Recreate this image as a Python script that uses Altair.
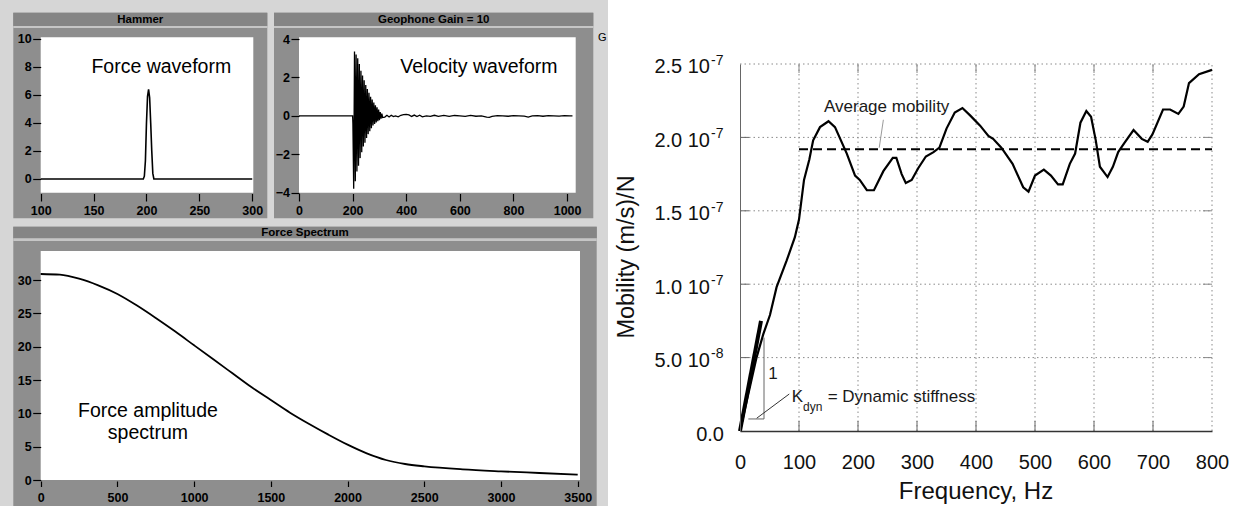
import altair as alt
import pandas as pd

LF = "Liberation Sans"

# ---------------- Hammer: force waveform ----------------
hammer_time = [100, 150, 197, 198, 199, 200, 201, 202, 203, 204, 205, 206, 207, 250, 300]
hammer_force = [0, 0, 0, 0.2, 1.3, 4.0, 5.9, 6.4, 5.8, 4.0, 2.0, 0.4, 0, 0, 0]
hammer_xticks = [100, 150, 200, 250, 300]
hammer_yticks = [0, 2, 4, 6, 8, 10]

# ---------------- Geophone: velocity waveform ----------------
vel_time = [0, 100, 150, 200, 201, 204, 207, 210, 213, 216, 219, 222, 225, 228, 231, 234, 237,
            240, 243, 246, 249, 252, 255, 258, 261, 264, 267, 270, 273, 276, 279, 282, 285,
            288, 291, 294, 297, 300, 303, 306, 309, 312,
            320, 328, 336, 344, 352, 360, 370, 380, 390, 400, 410, 420, 430, 440, 450, 460,
            475, 490, 505, 520, 540, 560, 580, 600, 620, 640, 660, 680, 700, 710, 720, 740,
            760, 780, 800, 820, 840, 855, 870, 890, 910, 930, 950, 970, 990, 1010, 1020]
vel_value = [0, 0, 0, 0, -0.4, -3.8, 3.35, -3.4, 3.2, -2.9, 3.0, -2.6, 2.7, -2.2, 2.35, -1.9, 2.1,
             -1.6, 1.85, -1.4, 1.6, -1.15, 1.4, -0.95, 1.2, -0.8, 1.0, -0.65, 0.85, -0.5, 0.7, -0.42, 0.55,
             -0.35, 0.45, -0.28, 0.33, -0.22, 0.2, -0.15, 0.12, -0.08,
             -0.06, 0.03, -0.06, 0.03, -0.04, 0.0, -0.05, 0.03, 0.06, 0.08, 0.05, -0.03, 0.04, -0.04, 0.03, -0.05,
             0.0, -0.03, 0.03, -0.03, 0.02, -0.03, 0.02, 0.0, -0.03, 0.02, -0.02, 0.0, -0.07, -0.08, -0.03, 0.01,
             0.0, -0.02, 0.01, 0.0, -0.01, -0.06, 0.0, 0.01, -0.02, 0.01, 0.0, -0.01, 0.01, 0.0, 0.0]
geo_xticks = [0, 200, 400, 600, 800, 1000]
geo_yticks = [-4, -2, 0, 2, 4]

# ---------------- Force amplitude spectrum ----------------
spec_freq = [0, 125, 250, 375, 500, 625, 750, 875, 1000, 1125, 1250, 1375, 1500, 1625, 1750,
             1875, 2000, 2125, 2250, 2375, 2500, 2750, 3000, 3250, 3500]
spec_amp = [30.9, 30.8, 30.2, 29.2, 27.9, 26.2, 24.3, 22.3, 20.2, 18.1, 16.0, 13.9, 12.0, 10.1, 8.4,
            6.8, 5.3, 4.0, 3.0, 2.4, 2.05, 1.6, 1.3, 1.05, 0.8]
spec_xticks = [0, 500, 1000, 1500, 2000, 2500, 3000, 3500]
spec_yticks = [0, 5, 10, 15, 20, 25, 30]

# ---------------- Mobility (values in units of 1e-7 (m/s)/N) ----------------
mob_freq = [0, 28, 39.5, 50.8, 62, 79, 93, 100, 108.5, 117.5, 124, 135.6, 150, 161, 181, 195, 203,
            215, 227, 243, 259, 265, 274, 281, 291, 302, 315, 328, 338, 350, 364, 377, 390, 407,
            421, 429, 443, 462, 480, 489, 500, 515, 527, 539, 547, 559, 568, 577, 587, 595, 603,
            610, 623, 632, 641, 651, 667, 681, 691, 699, 717, 729, 743, 752, 761, 778, 800]
mob_value_e7 = [0, 0.5, 0.66, 0.79, 0.98, 1.16, 1.32, 1.44, 1.71, 1.85, 1.98, 2.07, 2.11, 2.07, 1.89,
                1.74, 1.71, 1.64, 1.64, 1.77, 1.86, 1.86, 1.75, 1.69, 1.71, 1.79, 1.87, 1.90, 1.93,
                2.06, 2.17, 2.20, 2.15, 2.08, 2.01, 1.99, 1.93, 1.82, 1.66, 1.63, 1.74, 1.78, 1.74,
                1.68, 1.68, 1.82, 1.89, 2.10, 2.18, 2.14, 1.98, 1.80, 1.73, 1.80, 1.90, 1.96, 2.05,
                1.99, 1.97, 2.02, 2.19, 2.19, 2.16, 2.21, 2.37, 2.43, 2.46]
avg_mobility_e7 = 1.92
mob_xticks = [0, 100, 200, 300, 400, 500, 600, 700, 800]
mob_yticks_e7 = [0.0, 0.5, 1.0, 1.5, 2.0, 2.5]
mob_ylabel_base = ["0.0", "5.0 10", "1.0 10", "1.5 10", "2.0 10", "2.5 10"]
mob_ylabel_exp = ["", "-8", "-7", "-7", "-7", "-7"]

E7 = 1e-7

# ---------------- scales (pixel ranges inside the 1238x506 canvas) ----------------
def lin(domain, rng):
    return alt.Scale(domain=domain, range=rng, nice=False, zero=False)

H_X = lin([100, 301], [40.7, 253.3])
H_Y = lin([-0.98, 10.12], [192.7, 37.3])
G_X = lin([0, 1032], [299, 575.7])
G_Y = lin([-4.0, 4.09], [192.7, 37.3])
S_X = lin([0, 3515], [40.7, 580])
S_Y = lin([0, 34.35], [480, 251])
M_X = lin([0, 800], [740, 1212])
M_Y = lin([0, 2.5e-7], [431, 64])

ONE = pd.DataFrame({"_": [0]})


def xaxis_left(values, ypix, tick=7.5, pad=3.0):
    return alt.Axis(values=values, orient="bottom", offset=ypix - 506, domain=False, grid=False,
                    ticks=True, tickSize=tick, tickColor="black", tickWidth=1.2,
                    labelFont=LF, labelFontWeight="bold", labelFontSize=12.5, labelColor="black",
                    labelPadding=pad, labelFlush=False, labelOverlap=False, title=None,
                    format="d", zindex=1)


def yaxis_left(values, xpix, tick=8, pad=1.5):
    return alt.Axis(values=values, orient="left", offset=-xpix, domain=False, grid=False,
                    ticks=True, tickSize=tick, tickColor="black", tickWidth=1.2,
                    labelFont=LF, labelFontWeight="bold", labelFontSize=12.5, labelColor="black",
                    labelPadding=pad, labelFlush=False, labelOverlap=False, title=None,
                    format="d", zindex=1)


def box(x1, x2, y1, y2, color):
    return alt.Chart(ONE).mark_rect(fill=color, strokeWidth=0).encode(
        x=alt.value(x1), x2=alt.value(x2), y=alt.value(y1), y2=alt.value(y2))


def label(xp, yp, text, size=11.5, weight="bold", align="center", color="black", angle=0):
    kw = dict(text=text, font=LF, fontSize=size, fontWeight=weight, align=align,
              baseline="middle", color=color)
    if angle:
        kw["angle"] = angle
    return alt.Chart(ONE).mark_text(**kw).encode(x=alt.value(xp), y=alt.value(yp))


def dtext(xs, ys, xv, yv, text, size=19.5, align="center", dy=0, color="black"):
    return alt.Chart(ONE).mark_text(text=text, font=LF, fontSize=size, align=align,
                                    baseline="middle", dy=dy, color=color).encode(
        x=alt.XDatum(xv, scale=xs, axis=None), y=alt.YDatum(yv, scale=ys, axis=None))


def mseg(f1, v1, f2, v2, color="black", width=1.0, dash=None):
    kw = dict(color=color, strokeWidth=width)
    if dash:
        kw["strokeDash"] = dash
    return alt.Chart(ONE).mark_rule(**kw).encode(
        x=alt.XDatum(f1, scale=M_X, axis=None), x2=alt.X2Datum(f2),
        y=alt.YDatum(v1, scale=M_Y, axis=None), y2=alt.Y2Datum(v2))


layers = []

# ---------------- left instrument-screen background ----------------
PANEL = "#8e8e8e"
BAR = "#858585"
HILITE = "#c6c6c6"
layers += [
    box(0, 608, 0, 506, "#d6d6d6"),
    # Hammer panel
    box(13.3, 267.3, 12.7, 218.3, PANEL),
    box(13.3, 267.3, 12.7, 26, BAR),
    box(13.3, 267.3, 26, 28, HILITE),
    box(40.7, 253.3, 37.3, 192.7, "white"),
    # Geophone panel
    box(274, 593.3, 12.7, 218.3, PANEL),
    box(274, 593.3, 12.7, 26, BAR),
    box(274, 593.3, 26, 28, HILITE),
    box(299, 575.7, 37.3, 192.7, "white"),
    # Force spectrum panel
    box(13.3, 596.7, 226.7, 506, PANEL),
    box(13.3, 596.7, 226.7, 238.3, BAR),
    box(13.3, 596.7, 238.3, 241, HILITE),
    box(40.7, 580, 251, 480, "white"),
    label(140.3, 20, "Hammer"),
    label(433.7, 20, "Geophone Gain = 10"),
    label(305, 232.8, "Force Spectrum"),
    label(598, 38, "G", size=11, weight="normal", align="left"),
]

# ---------------- Hammer ----------------
df_h = pd.DataFrame({"t": hammer_time, "f": hammer_force})
layers.append(alt.Chart(df_h).mark_line(color="black", strokeWidth=1.6).encode(
    x=alt.X("t:Q", scale=H_X, axis=xaxis_left(hammer_xticks, 193.5)),
    y=alt.Y("f:Q", scale=H_Y, axis=yaxis_left(hammer_yticks, 40.7))))
layers.append(dtext(H_X, H_Y, 214, 8.0, "Force waveform"))

# ---------------- Geophone ----------------
df_g = pd.DataFrame({"t": vel_time, "v": vel_value})
layers.append(alt.Chart(df_g).mark_line(color="black", strokeWidth=1.3).encode(
    x=alt.X("t:Q", scale=G_X, axis=xaxis_left(geo_xticks, 193.5)),
    y=alt.Y("v:Q", scale=G_Y, axis=yaxis_left(geo_yticks, 299))))
layers.append(dtext(G_X, G_Y, 671, 2.56, "Velocity waveform"))

# ---------------- Force spectrum ----------------
df_s = pd.DataFrame({"f": spec_freq, "a": spec_amp})
layers.append(alt.Chart(df_s).mark_line(color="black", strokeWidth=1.8, interpolate="monotone").encode(
    x=alt.X("f:Q", scale=S_X, axis=xaxis_left(spec_xticks, 481, tick=5.5, pad=5.2)),
    y=alt.Y("a:Q", scale=S_Y, axis=yaxis_left(spec_yticks, 40.7))))
layers.append(dtext(S_X, S_Y, 699, 10.4, "Force amplitude"))
layers.append(dtext(S_X, S_Y, 699, 7.0, "spectrum"))

# ---------------- Mobility chart ----------------
GRID = "#8a8a8a"
df_mx_grid = pd.DataFrame({"f": mob_xticks[1:]})
df_my_grid = pd.DataFrame({"v": [t * E7 for t in mob_yticks_e7[1:]]})
df_mx_in = pd.DataFrame({"f": mob_xticks[1:-1]})
df_my_in = pd.DataFrame({"v": [t * E7 for t in mob_yticks_e7[1:-1]]})

layers += [
    alt.Chart(df_mx_grid).mark_rule(color=GRID, strokeWidth=1, strokeDash=[1.5, 3]).encode(
        x=alt.X("f:Q", scale=M_X, axis=None),
        y=alt.YDatum(0, scale=M_Y, axis=None), y2=alt.Y2Datum(2.5e-7)),
    alt.Chart(df_my_grid).mark_rule(color=GRID, strokeWidth=1, strokeDash=[1.5, 3]).encode(
        y=alt.Y("v:Q", scale=M_Y, axis=None),
        x=alt.XDatum(0, scale=M_X, axis=None), x2=alt.X2Datum(800)),
    # inward tick marks
    alt.Chart(df_mx_in).mark_rule(color="#666", strokeWidth=1).encode(
        x=alt.X("f:Q", scale=M_X, axis=None), y=alt.value(431), y2=alt.value(421)),
    alt.Chart(df_mx_in).mark_rule(color="#888", strokeWidth=1).encode(
        x=alt.X("f:Q", scale=M_X, axis=None), y=alt.value(64), y2=alt.value(73)),
    alt.Chart(df_my_in).mark_rule(color="#666", strokeWidth=1).encode(
        y=alt.Y("v:Q", scale=M_Y, axis=None), x=alt.value(740), x2=alt.value(749)),
    alt.Chart(df_my_in).mark_rule(color="#888", strokeWidth=1).encode(
        y=alt.Y("v:Q", scale=M_Y, axis=None), x=alt.value(1212), x2=alt.value(1203)),
]

df_m = pd.DataFrame({"f": mob_freq, "v": [v * E7 for v in mob_value_e7]})
layers.append(alt.Chart(df_m).mark_line(color="black", strokeWidth=2.2).encode(
    x=alt.X("f:Q", scale=M_X, axis=alt.Axis(
        values=mob_xticks, orient="bottom", offset=-75, ticks=False, domain=True,
        domainColor="#333", domainWidth=1.3, grid=False, labelFont=LF, labelFontSize=20,
        labelColor="#111", labelPadding=21, labelFlush=False, labelOverlap=False,
        title=None, zindex=1)),
    y=alt.Y("v:Q", scale=M_Y, axis=alt.Axis(
        orient="left", offset=-740, labels=False, ticks=False, domain=True,
        domainColor="#666", domainWidth=1, grid=False, title=None, zindex=1))))

# average mobility (dashed) and annotations
layers += [
    mseg(100, avg_mobility_e7 * E7, 800, avg_mobility_e7 * E7, "black", 2, [9, 5]),
    mseg(243, 2.12e-7, 236, 1.93e-7, "#9a9a9a", 1),
    dtext(M_X, M_Y, 248.6, 2.21e-7, "Average mobility", size=17, color="#1a1a1a"),
    # dynamic stiffness tangent + slope triangle
    mseg(0, 0, 35.6, 0.75e-7, "black", 4),
    mseg(40.7, 0.082e-7, 40.7, 0.636e-7, "#666", 1),
    mseg(14.1, 0.082e-7, 40.7, 0.082e-7, "#666", 1),
    mseg(28.3, 0.087e-7, 83.5, 0.252e-7, "#333", 1),
    dtext(M_X, M_Y, 56, 0.39e-7, "1", size=17, color="#1a1a1a"),
    dtext(M_X, M_Y, 87.6, 0.234e-7, "K", size=17, align="left", color="#1a1a1a"),
    dtext(M_X, M_Y, 106.8, 0.234e-7, "dyn", size=12, align="left", dy=10, color="#1a1a1a"),
    dtext(M_X, M_Y, 148.6, 0.234e-7, "= Dynamic stiffness", size=17, align="left", color="#1a1a1a"),
]

# y tick labels with superscript exponents
df_yt = pd.DataFrame({"v": [t * E7 for t in mob_yticks_e7], "base": mob_ylabel_base,
                      "exp": mob_ylabel_exp})
layers += [
    alt.Chart(df_yt).transform_filter("datum.v > 0").mark_text(
        font=LF, fontSize=20, align="right", baseline="middle", dy=3.4, color="#111").encode(
        x=alt.value(710), y=alt.Y("v:Q", scale=M_Y, axis=None), text="base:N"),
    alt.Chart(df_yt).transform_filter("datum.v == 0").mark_text(
        font=LF, fontSize=20, align="right", baseline="middle", dy=4, color="#111").encode(
        x=alt.value(724), y=alt.Y("v:Q", scale=M_Y, axis=None), text="base:N"),
    alt.Chart(df_yt).transform_filter("datum.v > 0").mark_text(
        font=LF, fontSize=14, align="left", baseline="middle", dy=-3.2, color="#111").encode(
        x=alt.value(711), y=alt.Y("v:Q", scale=M_Y, axis=None), text="exp:N"),
    label(627, 257, "Mobility (m/s)/N", size=23.5, weight="normal", color="#111", angle=270),
    label(976, 492, "Frequency, Hz", size=24, weight="normal", color="#111"),
]

chart = alt.layer(*layers).resolve_scale(x="independent", y="independent").properties(
    width=1238, height=506, padding=0,
    autosize=alt.AutoSizeParams(type="none"),
    background="white",
).configure_view(stroke=None)

chart.save("out.html", embed_options={"renderer": "svg", "actions": False})
